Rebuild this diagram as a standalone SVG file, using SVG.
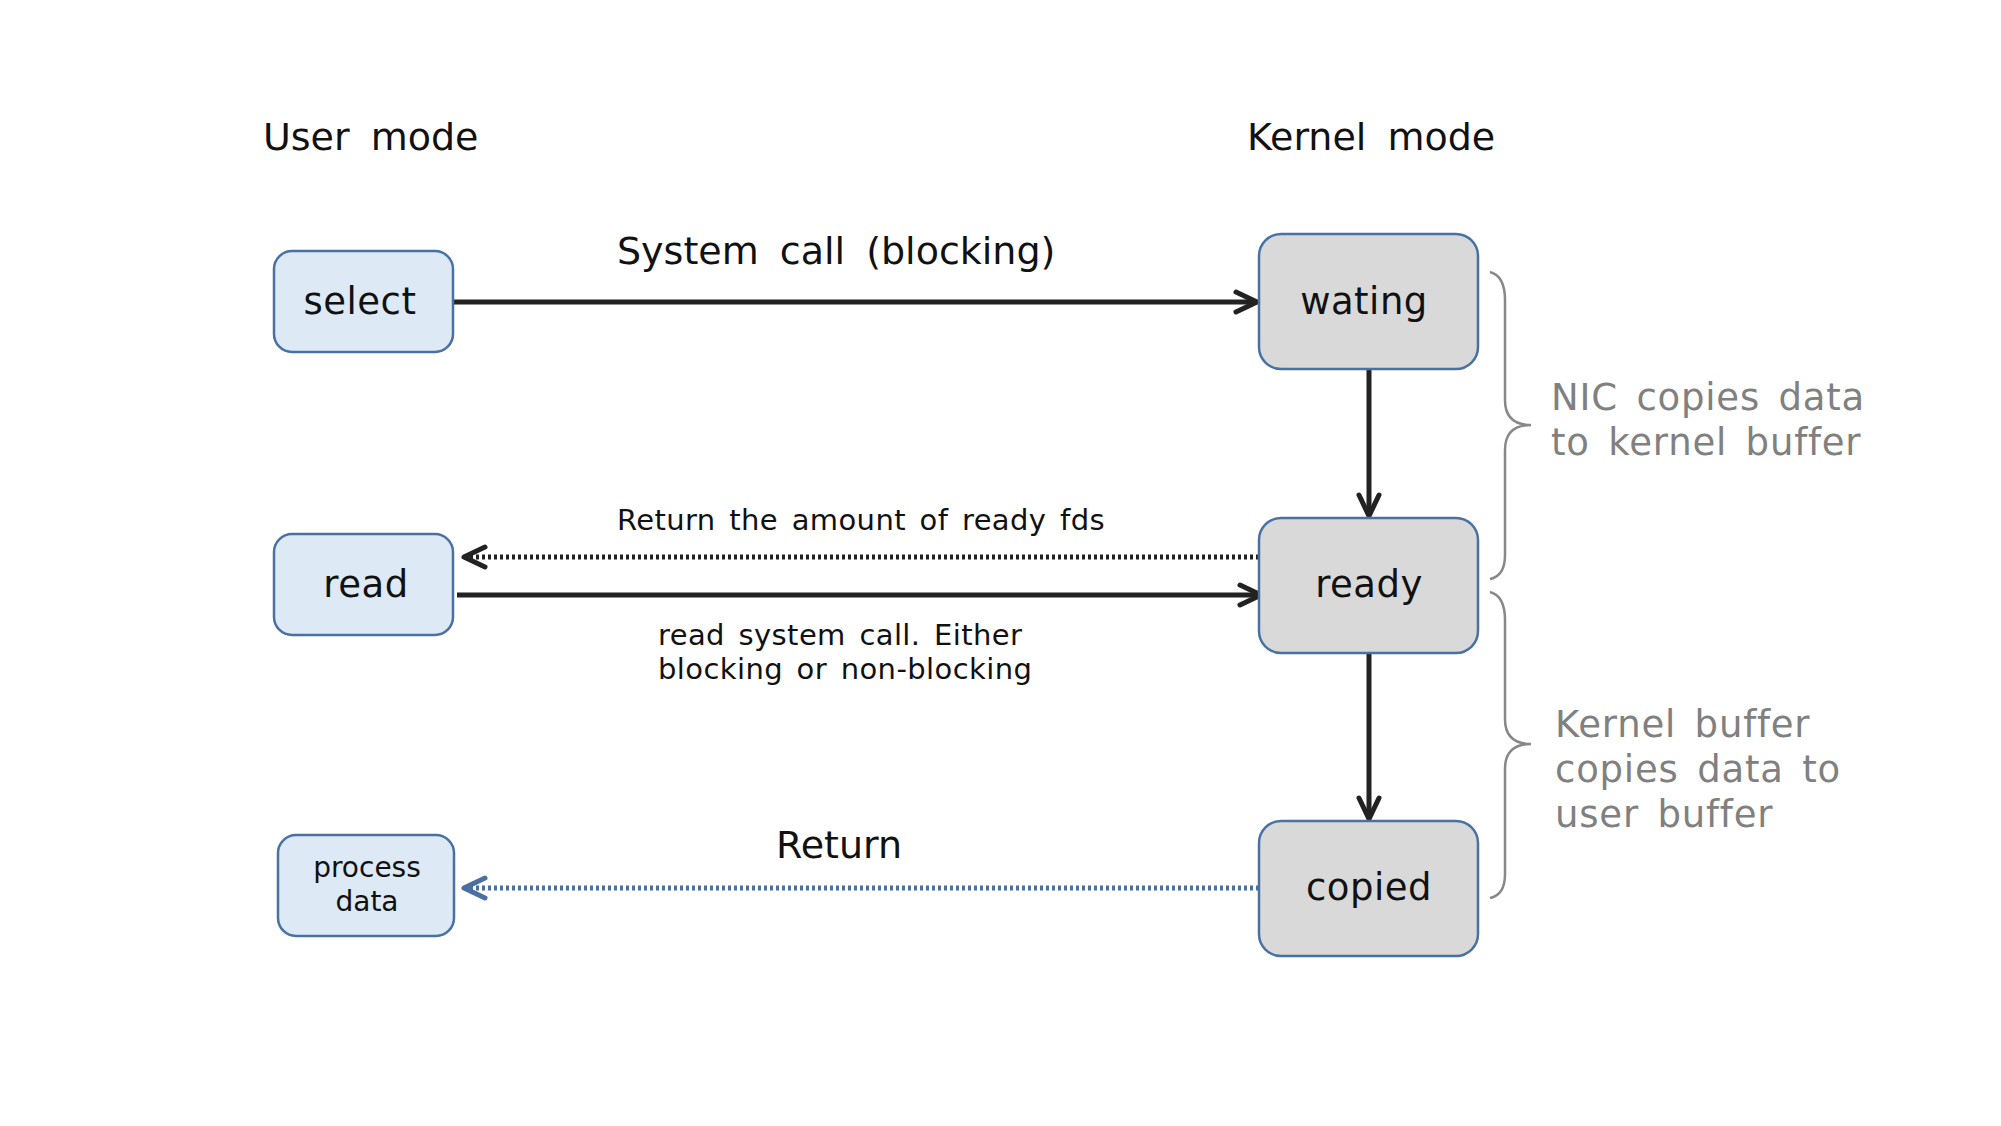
<svg xmlns="http://www.w3.org/2000/svg" width="2001" height="1126" viewBox="0 0 2001 1126">
<style>
text{font-family:"DejaVu Sans","Liberation Sans",sans-serif;fill:#111}
.hdr{font-size:38px;word-spacing:9px}
.lbl{font-size:38px;word-spacing:9px}
.sm{font-size:29px;word-spacing:4px;letter-spacing:0.4px}
.node{font-size:37px;text-anchor:middle;letter-spacing:0.5px}
.nodesm{font-size:28px;text-anchor:middle}
.user{fill:#dde9f5;stroke:#4a71a3;stroke-width:2.5}
.kern{fill:#d9d9d9;stroke:#4a71a3;stroke-width:2.5}
.solid{stroke:#222;stroke-width:5;fill:none}
.dot{stroke:#222;stroke-width:5;fill:none;stroke-dasharray:3 3}
.dotb{stroke:#4a6fa0;stroke-width:5;fill:none;stroke-dasharray:3 3}
.brace{stroke:#888;stroke-width:2.5;fill:none}
.note{font-size:37px;fill:#808080;letter-spacing:0.8px;word-spacing:6px}
</style>
<defs>
<marker id="chev" viewBox="-26 -14 30 28" markerWidth="30" markerHeight="28" refX="0" refY="0" orient="auto" markerUnits="userSpaceOnUse">
<path d="M-21,-10 L0,0 L-21,10" stroke="#222" stroke-width="5" fill="none" stroke-linecap="round" stroke-linejoin="round"/>
</marker>
<marker id="chevb" viewBox="-26 -14 30 28" markerWidth="30" markerHeight="28" refX="0" refY="0" orient="auto" markerUnits="userSpaceOnUse">
<path d="M-21,-10 L0,0 L-21,10" stroke="#4a6fa0" stroke-width="5" fill="none" stroke-linecap="round" stroke-linejoin="round"/>
</marker>
</defs>
<rect width="2001" height="1126" fill="#fff"/>
<text class="hdr" x="263" y="150">User mode</text>
<text class="hdr" x="1247" y="150">Kernel mode</text>

<g id="connectors">
<line class="solid" x1="453" y1="302" x2="1257" y2="302" marker-end="url(#chev)"/>
<line class="solid" x1="1369" y1="369" x2="1369" y2="516" marker-end="url(#chev)"/>
<line class="solid" x1="1369" y1="653" x2="1369" y2="819" marker-end="url(#chev)"/>
<line class="dot" x1="1259" y1="557" x2="464" y2="557" marker-end="url(#chev)"/>
<line class="solid" x1="457" y1="595" x2="1261" y2="595" marker-end="url(#chev)"/>
<line class="dotb" x1="1259" y1="888" x2="464" y2="888" marker-end="url(#chevb)"/>
<text class="lbl" x="617" y="264">System call (blocking)</text>
<text class="sm" x="617" y="530">Return the amount of ready fds</text>
<text class="sm" x="658" y="645">read system call. Either</text>
<text class="sm" x="658" y="679">blocking or non-blocking</text>
<text class="lbl" x="776" y="858">Return</text>
</g>

<g id="select">
<rect class="user" x="274" y="251" width="179" height="101" rx="18"/>
<text class="node" x="360" y="314">select</text>
</g>
<g id="read">
<rect class="user" x="274" y="534" width="179" height="101" rx="18"/>
<text class="node" x="366" y="597">read</text>
</g>
<g id="process-data">
<rect class="user" x="278" y="835" width="176" height="101" rx="18"/>
<text class="nodesm" x="367" y="877">process</text>
<text class="nodesm" x="367" y="911">data</text>
</g>
<g id="wating">
<rect class="kern" x="1259" y="234" width="219" height="135" rx="22"/>
<text class="node" x="1364" y="314">wating</text>
</g>
<g id="ready">
<rect class="kern" x="1259" y="518" width="219" height="135" rx="22"/>
<text class="node" x="1369" y="597">ready</text>
</g>
<g id="copied">
<rect class="kern" x="1259" y="821" width="219" height="135" rx="22"/>
<text class="node" x="1369" y="900">copied</text>
</g>

<g id="brace1">
<path class="brace" d="M1490,272 Q1505,276 1505,300 L1505,400 Q1505,425 1531,425 M1531,425 Q1505,425 1505,450 L1505,555 Q1505,576 1490,579"/>
<text class="note" x="1551" y="410">NIC copies data</text>
<text class="note" x="1551" y="455">to kernel buffer</text>
</g>
<g id="brace2">
<path class="brace" d="M1490,592 Q1505,596 1505,620 L1505,719 Q1505,744 1531,744 M1531,744 Q1505,744 1505,769 L1505,874 Q1505,895 1490,898"/>
<text class="note" x="1555" y="737">Kernel buffer</text>
<text class="note" x="1555" y="782">copies data to</text>
<text class="note" x="1555" y="827">user buffer</text>
</g>
</svg>
